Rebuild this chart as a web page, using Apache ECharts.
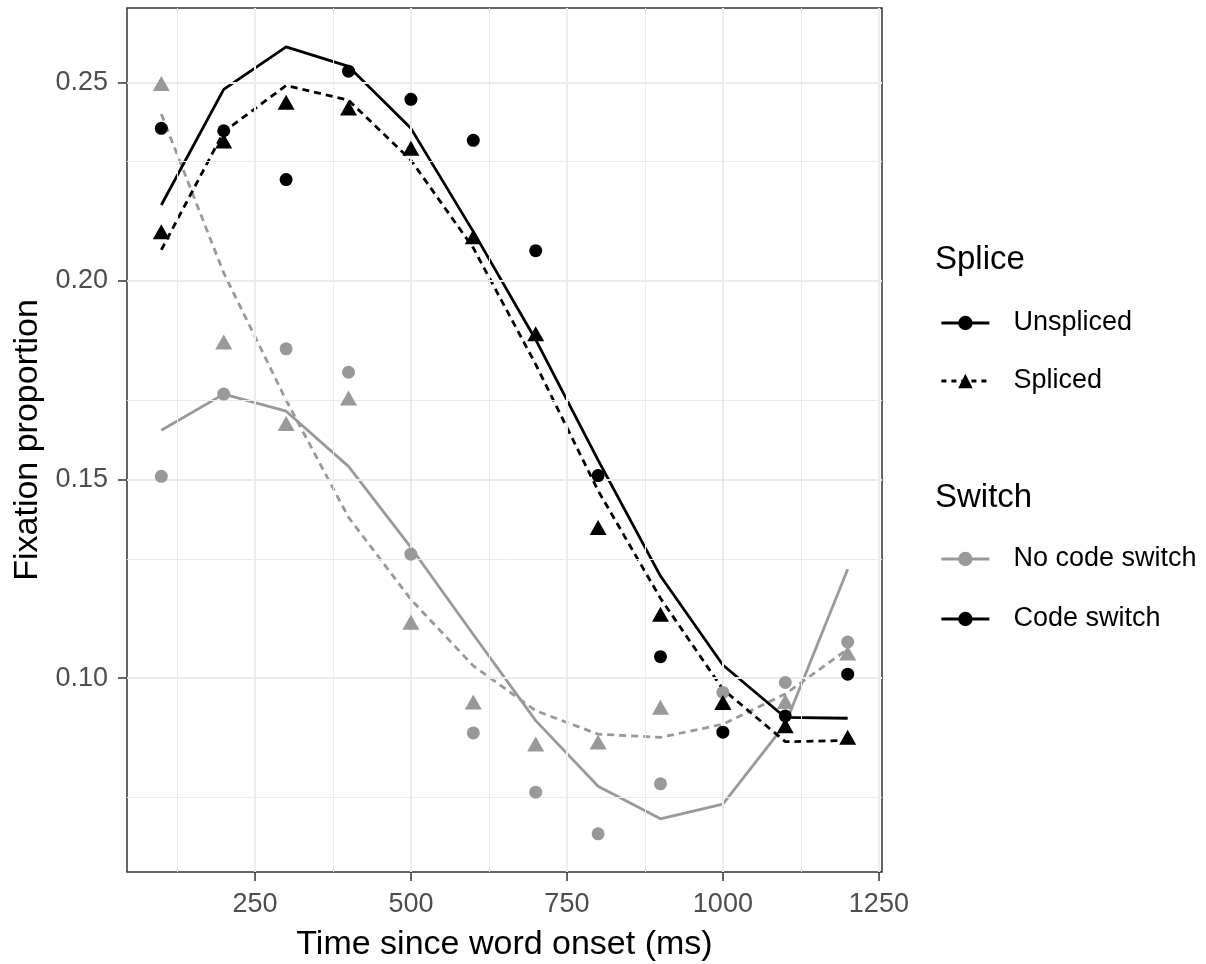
<!DOCTYPE html>
<html>
<head>
<meta charset="utf-8">
<script src="https://cdn.jsdelivr.net/npm/echarts@6/dist/echarts.min.js"></script>
<style>html,body{margin:0;padding:0;background:#fff;}#chart{width:1206px;height:964px;}</style>
</head>
<body>
<div id="chart"></div>
<script>
// ---- data ----
const times = [100, 200, 300, 400, 500, 600, 700, 800, 900, 1000, 1100, 1200];

// observed points
const csUnsplicedPts  = [0.2384, 0.2378, 0.2255, 0.2528, 0.2457, 0.2354, 0.2076, 0.1510, 0.1054, 0.0864, 0.0905, 0.1010];
const csSplicedPts    = [0.2124, 0.2352, 0.2450, 0.2435, 0.2334, 0.2111, 0.1867, 0.1379, 0.1161, 0.0939, 0.0880, 0.0851];
const ncsUnsplicedPts = [0.1508, 0.1715, 0.1829, 0.1770, 0.1312, 0.0862, 0.0713, 0.0608, 0.0734, 0.0964, 0.0989, 0.1091];
const ncsSplicedPts   = [0.2497, 0.1846, 0.1641, 0.1705, 0.1141, 0.0940, 0.0834, 0.0839, 0.0927, 0.0940, 0.0941, 0.1063];

// fitted lines
const csUnsplicedFit  = [0.2191, 0.2482, 0.2589, 0.2540, 0.2384, 0.2124, 0.1852, 0.1549, 0.1257, 0.1033, 0.0901, 0.0899];
const csSplicedFit    = [0.2078, 0.2375, 0.2492, 0.2455, 0.2304, 0.2083, 0.1790, 0.1472, 0.1201, 0.0972, 0.0840, 0.0843];
const ncsUnsplicedFit = [0.1624, 0.1715, 0.1672, 0.1533, 0.1329, 0.1110, 0.0893, 0.0728, 0.0646, 0.0683, 0.0884, 0.1274];
const ncsSplicedFit   = [0.2420, 0.2020, 0.1700, 0.1405, 0.1198, 0.1031, 0.0918, 0.0859, 0.0851, 0.0884, 0.0960, 0.1073];

// ticks
const xMajorTicks = [250, 500, 750, 1000, 1250];
const xMinorTicks = [125, 375, 625, 875, 1125];
const yMajorTicks = [0.10, 0.15, 0.20, 0.25];
const yMinorTicks = [0.075, 0.125, 0.175, 0.225];

// ---- styles ----
const FONT = '"Liberation Sans", Arial, Helvetica, sans-serif';
const BLACK = '#000000';
const GRAY = '#999999';
const DASH = [7, 5];
const LW = 2.8;

function pairs(ys) { return times.map((t, i) => [t, ys[i]]); }

function fitLine(name, ys, color, dashed) {
  return {
    name: name, type: 'line', data: pairs(ys), showSymbol: false, symbol: 'none',
    lineStyle: { color: color, width: LW, type: dashed ? DASH : 'solid' },
    itemStyle: { color: color }, z: 3, silent: true, animation: false
  };
}
function pts(name, ys, color, sym) {
  return {
    name: name, type: 'scatter', data: pairs(ys), symbol: sym,
    symbolSize: sym === 'triangle' ? [17, 15] : 13,
    itemStyle: { color: color, opacity: 1 }, z: color === BLACK ? 6 : 5, silent: true, animation: false
  };
}
function legendSeries(name, color, dashed, sym) {
  return {
    name: name, type: 'line', data: [], symbol: sym, symbolSize: 13,
    lineStyle: { color: color, width: LW, type: dashed ? [5, 5] : 'solid' },
    itemStyle: { color: color }
  };
}

const gridMarks = {
  name: 'grid', type: 'line', data: [], z: 1, silent: true, animation: false,
  markLine: {
    silent: true, symbol: ['none', 'none'], label: { show: false }, animation: false,
    lineStyle: { color: '#ebebeb', type: 'solid', width: 2 },
    emphasis: { disabled: true },
    data: [].concat(
      xMajorTicks.map(v => ({ xAxis: v, lineStyle: { width: 2, color: '#ebebeb', type: 'solid' } })),
      xMinorTicks.map(v => ({ xAxis: v, lineStyle: { width: 1, color: '#ebebeb', type: 'solid' } })),
      yMajorTicks.map(v => ({ yAxis: v, lineStyle: { width: 2, color: '#ebebeb', type: 'solid' } })),
      yMinorTicks.map(v => ({ yAxis: v, lineStyle: { width: 1, color: '#ebebeb', type: 'solid' } }))
    )
  }
};

const legendBase = {
  orient: 'vertical', left: 940, padding: 0,
  itemWidth: 48, itemHeight: 18, itemGap: 28, selectedMode: false,
  lineStyle: { width: LW },
  textStyle: { fontSize: 27, color: BLACK, fontFamily: FONT, lineHeight: 30, padding: [0, 0, 0, 19] }
};

const chart = echarts.init(document.getElementById('chart'), null, { renderer: 'canvas' });
chart.setOption({
  animation: false,
  backgroundColor: '#ffffff',
  textStyle: { fontFamily: FONT },
  title: [
    { text: 'Splice', left: 935, top: 243, padding: 0,
      textStyle: { fontSize: 33, fontWeight: 'normal', color: BLACK, fontFamily: FONT } },
    { text: 'Switch', left: 935, top: 481, padding: 0,
      textStyle: { fontSize: 33, fontWeight: 'normal', color: BLACK, fontFamily: FONT } }
  ],
  legend: [
    Object.assign({}, legendBase, { data: ['Unspliced', 'Spliced'], top: 308 }),
    Object.assign({}, legendBase, { data: ['No code switch', 'Code switch'], top: 544, itemGap: 30 })
  ],
  grid: { left: 127, right: 324, top: 8, bottom: 92, show: true, borderColor: '#333333', borderWidth: 1.5,
    backgroundColor: 'transparent', containLabel: false, outerBoundsMode: 'none' },
  xAxis: {
    type: 'value', min: 45, max: 1255,
    name: 'Time since word onset (ms)', nameLocation: 'middle', nameGap: 56,
    nameTextStyle: { fontSize: 34, color: BLACK, fontFamily: FONT },
    axisLine: { show: false },
    axisTick: { show: true, customValues: xMajorTicks, length: 9, lineStyle: { color: '#333333', width: 1.5 } },
    axisLabel: { customValues: xMajorTicks, fontSize: 27, color: '#4d4d4d', margin: 19, fontFamily: FONT,
      formatter: v => String(v) },
    splitLine: { show: false }
  },
  yAxis: {
    type: 'value', min: 0.0512, max: 0.2687,
    name: 'Fixation proportion', nameLocation: 'middle', nameGap: 79,
    nameTextStyle: { fontSize: 34, color: BLACK, fontFamily: FONT },
    axisLine: { show: false },
    axisTick: { show: true, customValues: yMajorTicks, length: 9, lineStyle: { color: '#333333', width: 1.5 } },
    axisLabel: { customValues: yMajorTicks, fontSize: 27, color: '#4d4d4d', margin: 19, fontFamily: FONT,
      formatter: v => v.toFixed(2) },
    splitLine: { show: false }
  },
  series: [
    gridMarks,
    fitLine('fit-ncs-unspliced', ncsUnsplicedFit, GRAY, false),
    fitLine('fit-ncs-spliced', ncsSplicedFit, GRAY, true),
    fitLine('fit-cs-unspliced', csUnsplicedFit, BLACK, false),
    fitLine('fit-cs-spliced', csSplicedFit, BLACK, true),
    pts('pts-ncs-unspliced', ncsUnsplicedPts, GRAY, 'circle'),
    pts('pts-ncs-spliced', ncsSplicedPts, GRAY, 'triangle'),
    pts('pts-cs-unspliced', csUnsplicedPts, BLACK, 'circle'),
    pts('pts-cs-spliced', csSplicedPts, BLACK, 'triangle'),
    legendSeries('Unspliced', BLACK, false, 'circle'),
    legendSeries('Spliced', BLACK, true, 'triangle'),
    legendSeries('No code switch', GRAY, false, 'circle'),
    legendSeries('Code switch', BLACK, false, 'circle')
  ]
});
</script>
</body>
</html>
